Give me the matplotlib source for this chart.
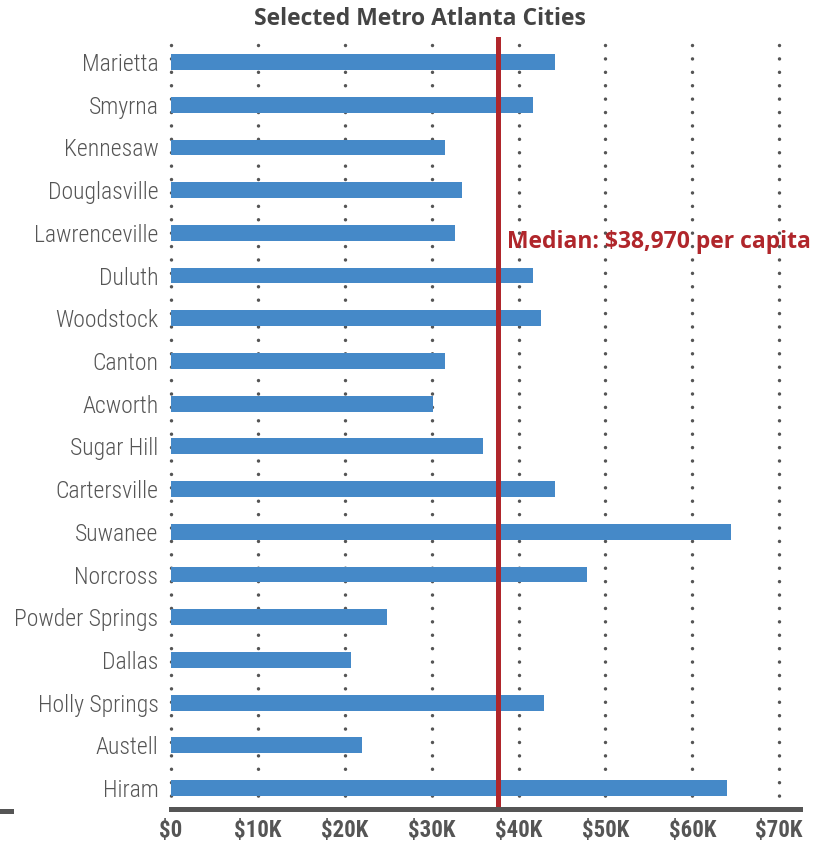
import matplotlib
matplotlib.use("Agg")
import matplotlib.pyplot as plt
from matplotlib.lines import Line2D
import numpy as np

# %%
cities = ['Marietta', 'Smyrna', 'Kennesaw', 'Douglasville', 'Lawrenceville', 'Duluth',
          'Woodstock', 'Canton', 'Acworth', 'Sugar Hill', 'Cartersville', 'Suwanee',
          'Norcross', 'Powder Springs', 'Dallas', 'Holly Springs', 'Austell', 'Hiram']
income_k = [44.2, 41.7, 31.5, 33.5, 32.7, 41.7,
            42.6, 31.5, 30.2, 35.9, 44.2, 64.5,
            47.9, 24.9, 20.7, 42.9, 22.0, 64.0]
median_k = 37.65
median_label = 'Median: $38,970 per capita'
tick_vals = [0, 10, 20, 30, 40, 50, 60, 70]
tick_labels = ['$0', '$10K', '$20K', '$30K', '$40K', '$50K', '$60K', '$70K']
title = 'Selected Metro Atlanta Cities'

# %%
cond = ['Roboto Condensed', 'DejaVu Sans']
wide = ['Open Sans', 'DejaVu Sans']
gray = '#555555'
bar_c = '#4589c8'
red = '#b0262b'

fig = plt.figure(figsize=(8.37, 8.44), dpi=100)
ax = fig.add_axes([171/837, 35/844, 629/837, 772/844])

y = np.arange(len(cities))
ax.barh(y, income_k, height=0.37, color=bar_c, zorder=2)

# dotted grid
ax.vlines(tick_vals, 0, 1, transform=ax.get_xaxis_transform(), colors=gray,
          linewidth=2.5, linestyles=(0, (0.01, 3.85)), capstyle='round',
          zorder=1, clip_on=False)

ax.axvline(median_k, ymin=0, ymax=1, color=red, lw=3.6, zorder=3)
ax.annotate(median_label, xy=(median_k, 4.356), xytext=(6.5, 0),
            textcoords='offset points', ha='left', va='baseline',
            color=red, fontsize=16.5, fontweight='bold', family=wide)

ax.set_xlim(0, 72.4)
ax.set_ylim(17.49, -0.585)

ax.set_yticks(y)
ax.set_yticklabels(cities, family=cond, fontsize=17, fontweight='light', color=gray)
ax.set_xticks(tick_vals)
ax.set_xticklabels(tick_labels, family=cond, fontsize=16.5, fontweight='bold', color=gray)
ax.tick_params(axis='y', length=0, pad=9)
ax.tick_params(axis='x', length=0, pad=7)

for s in ['top', 'right', 'left']:
    ax.spines[s].set_visible(False)
ax.spines['bottom'].set_color(gray)
ax.spines['bottom'].set_linewidth(3.6)
ax.spines['bottom'].set_zorder(4)

fig.text(420/837, 1 - 19/844, title, ha='center', va='center', fontsize=16.5,
         fontweight='bold', color='#444444', family=wide)

# small stray dash at far left
fig.add_artist(Line2D([0, 11/837], [1 - 811/844, 1 - 811/844], color=gray, lw=3.6))

fig.savefig('out.png', dpi=100)
